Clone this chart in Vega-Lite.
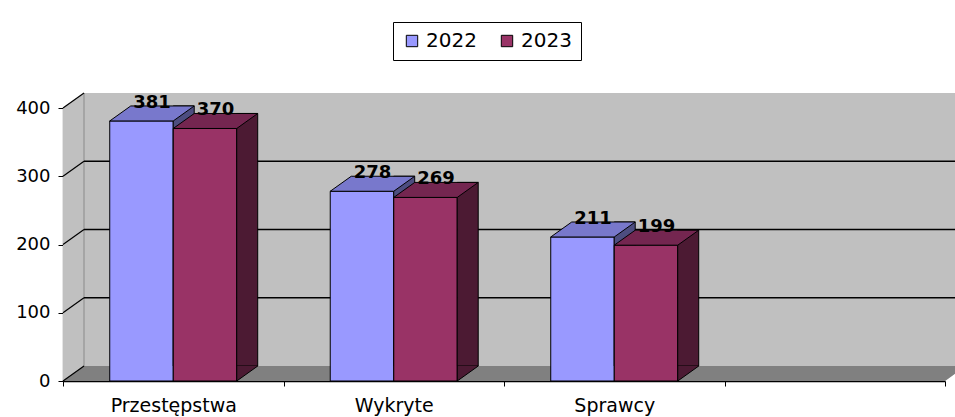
{
  "$schema": "https://vega.github.io/schema/vega-lite/v6.json",
  "width": 882,
  "height": 273,
  "autosize": "none",
  "padding": {"left": 63, "top": 108, "right": 10, "bottom": 36},
  "background": "white",
  "config": {
    "view": {"stroke": null},
    "font": "DejaVu Sans",
    "axis": {"grid": false, "domainColor": "black", "tickColor": "black", "labelColor": "black", "labelFont": "DejaVu Sans", "title": null},
    "axisY": {"tickCount": 4, "labelFontSize": 18, "tickSize": 5, "labelPadding": 8, "domainWidth": 1.2},
    "axisX": {"tickBand": "extent", "labelFontSize": 19, "tickSize": 5, "labelPadding": 10, "labelAngle": 0, "domainWidth": 1.5}
  },
  "resolve": {"scale": {"xOffset": "independent"}},
  "data": {
    "values": [
      {"cat": "Przestępstwa", "year": "2022", "value": 381},
      {"cat": "Przestępstwa", "year": "2023", "value": 370},
      {"cat": "Wykryte", "year": "2022", "value": 278},
      {"cat": "Wykryte", "year": "2023", "value": 269},
      {"cat": "Sprawcy", "year": "2022", "value": 211},
      {"cat": "Sprawcy", "year": "2023", "value": 199}
    ]
  },
  "layer": [
    {
      "data": {"values": [{}]},
      "mark": {"type": "point", "shape": "M0,0 L0,-273 L21,-288 L903,-288 L903,-15 L882,0 Z", "size": 4, "filled": true, "fill": "#c0c0c0", "opacity": 1, "strokeWidth": 0},
      "encoding": {
        "x": {"datum": "Przestępstwa", "bandPosition": 0, "type": "nominal", "title": null, "scale": {"type": "band", "domain": ["Przestępstwa", "Wykryte", "Sprawcy", ""], "paddingInner": 0, "paddingOuter": 0}},
        "y": {"datum": 0, "type": "quantitative", "title": null, "scale": {"domain": [0, 400], "nice": false}}
      }
    },
    {
      "data": {"values": [{}]},
      "mark": {"type": "point", "shape": "M0,0 L21,-15 L903,-15 L882,0 Z", "size": 4, "filled": true, "fill": "#808080", "opacity": 1, "strokeWidth": 0},
      "encoding": {
        "x": {"datum": "Przestępstwa", "bandPosition": 0, "type": "nominal", "title": null},
        "y": {"datum": 0, "type": "quantitative", "title": null}
      }
    },
    {
      "data": {"values": [{}]},
      "mark": {"type": "point", "shape": "M21,-15 L21,-288", "size": 4, "filled": false, "stroke": "#8a8a8a", "opacity": 1, "strokeWidth": 1},
      "encoding": {
        "x": {"datum": "Przestępstwa", "bandPosition": 0, "type": "nominal", "title": null},
        "y": {"datum": 0, "type": "quantitative", "title": null}
      }
    },
    {
      "data": {"values": [{"v": 0}, {"v": 100}, {"v": 200}, {"v": 300}, {"v": 400}]},
      "mark": {"type": "point", "shape": "M0,0 L21,-15", "size": 4, "filled": false, "stroke": "black", "opacity": 1, "strokeWidth": 1.2},
      "encoding": {
        "x": {"datum": "Przestępstwa", "bandPosition": 0, "type": "nominal", "title": null},
        "y": {"field": "v", "type": "quantitative", "title": null}
      }
    },
    {
      "data": {"values": [{"v": 100}, {"v": 200}, {"v": 300}]},
      "mark": {"type": "point", "shape": "M21,-15 L903,-15", "size": 4, "filled": false, "stroke": "black", "opacity": 1, "strokeWidth": 1.5},
      "encoding": {
        "x": {"datum": "Przestępstwa", "bandPosition": 0, "type": "nominal", "title": null},
        "y": {"field": "v", "type": "quantitative", "title": null}
      }
    },
    {
      "transform": [{"filter": "datum.year == '2022'"}],
      "mark": {"type": "bar", "stroke": "black", "strokeWidth": 1},
      "encoding": {
        "x": {"field": "cat", "type": "nominal", "title": null, "sort": null},
        "xOffset": {"field": "year", "type": "nominal", "scale": {"type": "band", "domain": ["2022", "2023"], "paddingInner": 0, "paddingOuter": 0.736}},
        "y": {"field": "value", "type": "quantitative", "title": null},
        "color": {"field": "year", "type": "nominal", "scale": {"domain": ["2022", "2023"], "range": ["#9999ff", "#993366"]},
          "legend": {"orient": "none", "legendX": 330, "legendY": -86, "direction": "horizontal", "title": null, "symbolType": "square", "symbolSize": 130, "symbolStrokeColor": "black", "symbolStrokeWidth": 1, "labelFontSize": 20, "labelFont": "DejaVu Sans", "labelColor": "black", "strokeColor": "black", "fillColor": "white", "padding": 9, "columnPadding": 20, "labelOffset": 4}}
      }
    },
    {
      "transform": [{"filter": "datum.year == '2022'"}],
      "mark": {"type": "bar", "width": 21, "yOffset": -15, "fill": "#4d4d80", "stroke": "black", "strokeWidth": 1},
      "encoding": {
        "x": {"field": "cat", "type": "nominal", "title": null},
        "xOffset": {"field": "year", "type": "nominal", "scale": {"type": "band", "domain": ["2022", "2023"], "range": [88.95, 215.97], "paddingInner": 0, "paddingOuter": 0}},
        "y": {"field": "value", "type": "quantitative", "title": null}
      }
    },
    {
      "transform": [{"filter": "datum.year == '2022'"}],
      "mark": {"type": "point", "shape": "M-31.75,0 L31.75,0 L52.75,-15 L-10.75,-15 Z", "size": 4, "filled": true, "fill": "#7878cc", "stroke": "black", "strokeWidth": 1, "opacity": 1},
      "encoding": {
        "x": {"field": "cat", "type": "nominal", "title": null},
        "xOffset": {"field": "year", "type": "nominal", "scale": {"type": "band", "domain": ["2022", "2023"], "paddingInner": 0, "paddingOuter": 0.736}},
        "y": {"field": "value", "type": "quantitative", "title": null}
      }
    },
    {
      "transform": [{"filter": "datum.year == '2023'"}],
      "mark": {"type": "bar", "stroke": "black", "strokeWidth": 1},
      "encoding": {
        "x": {"field": "cat", "type": "nominal", "title": null},
        "xOffset": {"field": "year", "type": "nominal", "scale": {"type": "band", "domain": ["2022", "2023"], "paddingInner": 0, "paddingOuter": 0.736}},
        "y": {"field": "value", "type": "quantitative", "title": null},
        "color": {"field": "year", "type": "nominal"}
      }
    },
    {
      "transform": [{"filter": "datum.year == '2023'"}],
      "mark": {"type": "bar", "width": 21, "yOffset": -15, "fill": "#4c1a33", "stroke": "black", "strokeWidth": 1},
      "encoding": {
        "x": {"field": "cat", "type": "nominal", "title": null},
        "xOffset": {"field": "year", "type": "nominal", "scale": {"type": "band", "domain": ["2022", "2023"], "range": [88.95, 215.97], "paddingInner": 0, "paddingOuter": 0}},
        "y": {"field": "value", "type": "quantitative", "title": null}
      }
    },
    {
      "transform": [{"filter": "datum.year == '2023'"}],
      "mark": {"type": "point", "shape": "M31.75,-15 L31.75,0 L52.75,-15", "size": 4, "filled": true, "fill": "#4c1a33", "stroke": "black", "strokeWidth": 1, "opacity": 1},
      "encoding": {
        "x": {"field": "cat", "type": "nominal", "title": null},
        "xOffset": {"field": "year", "type": "nominal", "scale": {"type": "band", "domain": ["2022", "2023"], "paddingInner": 0, "paddingOuter": 0.736}},
        "y": {"datum": 0, "type": "quantitative", "title": null}
      }
    },
    {
      "transform": [{"filter": "datum.year == '2023'"}],
      "mark": {"type": "point", "shape": "M-31.75,0 L31.75,0 L52.75,-15 L-10.75,-15 Z", "size": 4, "filled": true, "fill": "#742650", "stroke": "black", "strokeWidth": 1, "opacity": 1},
      "encoding": {
        "x": {"field": "cat", "type": "nominal", "title": null},
        "xOffset": {"field": "year", "type": "nominal", "scale": {"type": "band", "domain": ["2022", "2023"], "paddingInner": 0, "paddingOuter": 0.736}},
        "y": {"field": "value", "type": "quantitative", "title": null}
      }
    },
    {
      "mark": {"type": "text", "dx": 10.5, "dy": -13, "baseline": "alphabetic", "align": "center", "fontWeight": "bold", "fontSize": 18, "font": "DejaVu Sans", "color": "black"},
      "encoding": {
        "x": {"field": "cat", "type": "nominal", "title": null},
        "xOffset": {"field": "year", "type": "nominal", "scale": {"type": "band", "domain": ["2022", "2023"], "paddingInner": 0, "paddingOuter": 0.736}},
        "y": {"field": "value", "type": "quantitative", "title": null},
        "text": {"field": "value", "type": "quantitative"}
      }
    }
  ]
}
